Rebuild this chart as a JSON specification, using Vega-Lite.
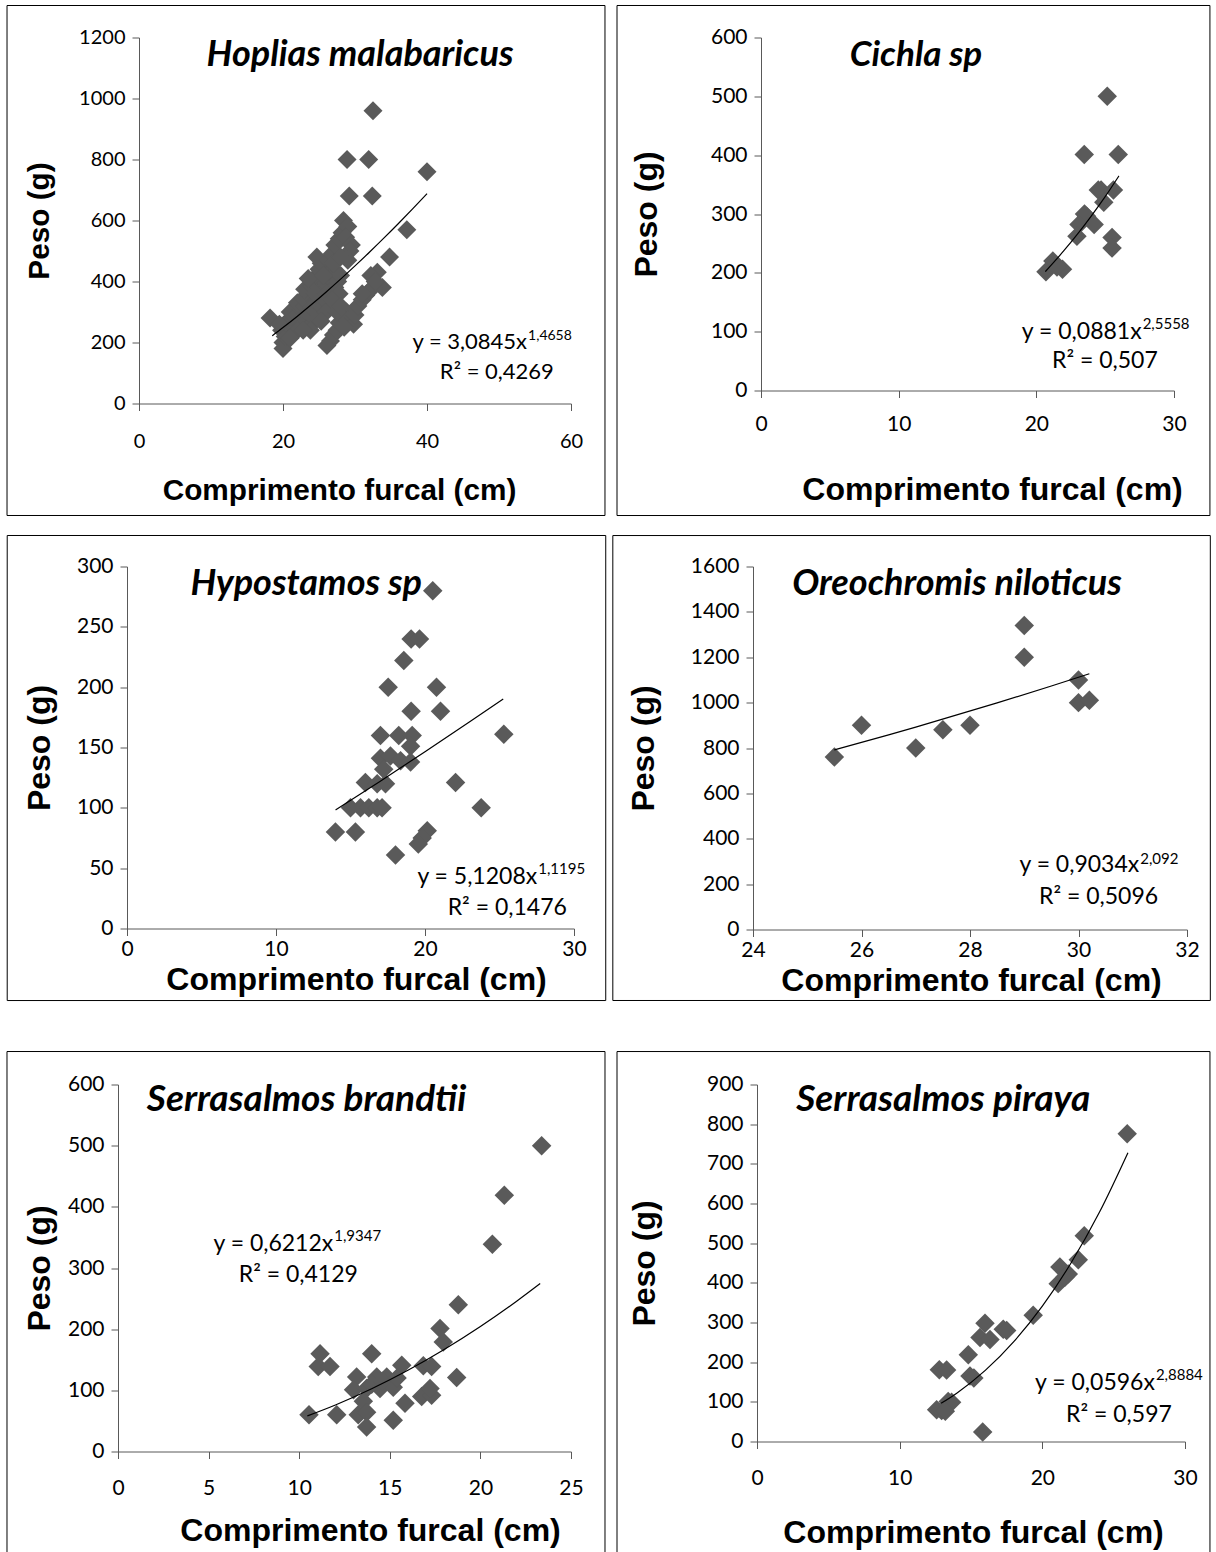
{
  "$schema": "https://vega.github.io/schema/vega-lite/v6.json",
  "background": "white",
  "padding": {"left": 5, "top": 4.5, "right": 0, "bottom": 0},
  "config": {
    "view": {"stroke": null},
    "numberFormat": "d",
    "axis": {"grid": false, "domainColor": "#595959", "tickColor": "#595959", "tickSize": 7, "domainWidth": 1, "tickWidth": 1,
      "labelFont": "Lato", "labelFontSize": 21, "labelColor": "#000000", "labelFlush": false, "labelOverlap": false,
      "titleFont": "Liberation Sans", "titleFontWeight": "bold", "titleFontSize": 32, "titleColor": "#000000"},
    "axisY": {"labelPadding": 7},
    "text": {"font": "Lato", "color": "#000000"}
  },
  "datasets": {
    "p1": [
      {"comprimento": 18.2, "peso": 280}, {"comprimento": 28.9, "peso": 800}, {"comprimento": 31.9, "peso": 800}, {"comprimento": 32.5, "peso": 960}, {"comprimento": 40, "peso": 760}, {"comprimento": 29.2, "peso": 680}, {"comprimento": 32.4, "peso": 680}, {"comprimento": 37.2, "peso": 570}, {"comprimento": 34.8, "peso": 480}, {"comprimento": 33.1, "peso": 430}, {"comprimento": 33.8, "peso": 380}, {"comprimento": 32.2, "peso": 420},
      {"comprimento": 20, "peso": 180}, {"comprimento": 20, "peso": 200}, {"comprimento": 20.3, "peso": 220}, {"comprimento": 19.8, "peso": 240}, {"comprimento": 20.8, "peso": 250}, {"comprimento": 20.4, "peso": 265}, {"comprimento": 21.3, "peso": 280}, {"comprimento": 21, "peso": 300}, {"comprimento": 22, "peso": 290}, {"comprimento": 22.5, "peso": 310}, {"comprimento": 22, "peso": 330}, {"comprimento": 23, "peso": 320}, {"comprimento": 22.8, "peso": 345}, {"comprimento": 23.5, "peso": 360}, {"comprimento": 23, "peso": 375}, {"comprimento": 24, "peso": 385}, {"comprimento": 24.2, "peso": 400}, {"comprimento": 24.7, "peso": 420}, {"comprimento": 25, "peso": 440}, {"comprimento": 25.3, "peso": 460}, {"comprimento": 24.7, "peso": 480}, {"comprimento": 25.8, "peso": 450}, {"comprimento": 26.3, "peso": 470}, {"comprimento": 26.8, "peso": 490}, {"comprimento": 27.2, "peso": 520}, {"comprimento": 27.8, "peso": 540}, {"comprimento": 28.2, "peso": 560}, {"comprimento": 28.4, "peso": 600}, {"comprimento": 29, "peso": 580}, {"comprimento": 28.7, "peso": 545}, {"comprimento": 29.5, "peso": 520}, {"comprimento": 29.3, "peso": 500}, {"comprimento": 29, "peso": 470}, {"comprimento": 27, "peso": 440}, {"comprimento": 26.5, "peso": 410}, {"comprimento": 26, "peso": 395}, {"comprimento": 25.5, "peso": 375}, {"comprimento": 25, "peso": 355}, {"comprimento": 24.5, "peso": 335}, {"comprimento": 24, "peso": 315}, {"comprimento": 23.5, "peso": 295}, {"comprimento": 23, "peso": 275}, {"comprimento": 22.5, "peso": 255}, {"comprimento": 22, "peso": 240}, {"comprimento": 24, "peso": 260}, {"comprimento": 24.5, "peso": 275}, {"comprimento": 25, "peso": 295}, {"comprimento": 25.5, "peso": 315}, {"comprimento": 26, "peso": 335}, {"comprimento": 26.6, "peso": 355}, {"comprimento": 27.2, "peso": 380}, {"comprimento": 27.6, "peso": 400}, {"comprimento": 27.8, "peso": 360}, {"comprimento": 28, "peso": 420}, {"comprimento": 26, "peso": 300}, {"comprimento": 25.3, "peso": 270}, {"comprimento": 23.8, "peso": 240}, {"comprimento": 22.8, "peso": 240}, {"comprimento": 21, "peso": 215}, {"comprimento": 19.5, "peso": 260}, {"comprimento": 23.5, "peso": 410}, {"comprimento": 24.5, "peso": 360}, {"comprimento": 26, "peso": 360}, {"comprimento": 27, "peso": 460}, {"comprimento": 28, "peso": 480}, {"comprimento": 25.6, "peso": 420}, {"comprimento": 26.8, "peso": 340},
      {"comprimento": 26.1, "peso": 190}, {"comprimento": 26.6, "peso": 205}, {"comprimento": 27, "peso": 225}, {"comprimento": 27.5, "peso": 240}, {"comprimento": 27.8, "peso": 265}, {"comprimento": 28.2, "peso": 290}, {"comprimento": 28.8, "peso": 300}, {"comprimento": 29, "peso": 275}, {"comprimento": 29.8, "peso": 260}, {"comprimento": 30, "peso": 290}, {"comprimento": 30.4, "peso": 320}, {"comprimento": 31, "peso": 340}, {"comprimento": 31.5, "peso": 355}, {"comprimento": 32, "peso": 370}, {"comprimento": 32.5, "peso": 380}, {"comprimento": 32.8, "peso": 400}, {"comprimento": 28.5, "peso": 250}, {"comprimento": 31, "peso": 360}, {"comprimento": 27.5, "peso": 300}, {"comprimento": 28, "peso": 320}
    ],
    "t1": [
      {"comprimento": 18.5, "peso": 222.1}, {"comprimento": 20, "peso": 249.0}, {"comprimento": 22, "peso": 286.3}, {"comprimento": 24, "peso": 325.3}, {"comprimento": 26, "peso": 365.8}, {"comprimento": 28, "peso": 407.8}, {"comprimento": 30, "peso": 451.2}, {"comprimento": 32, "peso": 495.9}, {"comprimento": 34, "peso": 542.0}, {"comprimento": 36, "peso": 589.4}, {"comprimento": 38, "peso": 638.1}, {"comprimento": 40, "peso": 687.9}
    ],
    "p2": [
      {"comprimento": 25.15, "peso": 500}, {"comprimento": 23.48, "peso": 401}, {"comprimento": 25.95, "peso": 401}, {"comprimento": 24.5, "peso": 341}, {"comprimento": 24.7, "peso": 341}, {"comprimento": 25.6, "peso": 341}, {"comprimento": 24.9, "peso": 320}, {"comprimento": 23.5, "peso": 300}, {"comprimento": 23.65, "peso": 296}, {"comprimento": 23.1, "peso": 282}, {"comprimento": 24.2, "peso": 282}, {"comprimento": 22.95, "peso": 262}, {"comprimento": 25.5, "peso": 260}, {"comprimento": 25.5, "peso": 242}, {"comprimento": 21.2, "peso": 220}, {"comprimento": 20.7, "peso": 202}, {"comprimento": 21.9, "peso": 206}, {"comprimento": 21.5, "peso": 210}
    ],
    "t2": [
      {"comprimento": 20.65, "peso": 202}, {"comprimento": 21.5, "peso": 224.1}, {"comprimento": 22, "peso": 237.6}, {"comprimento": 23, "peso": 266.2}, {"comprimento": 24, "peso": 296.9}, {"comprimento": 25, "peso": 329.5}, {"comprimento": 26, "peso": 364.8}
    ],
    "p3": [
      {"comprimento": 20.52, "peso": 280}, {"comprimento": 19.07, "peso": 240}, {"comprimento": 19.63, "peso": 240}, {"comprimento": 18.58, "peso": 222}, {"comprimento": 17.53, "peso": 200}, {"comprimento": 20.77, "peso": 200}, {"comprimento": 19.07, "peso": 180}, {"comprimento": 21.04, "peso": 180}, {"comprimento": 17.01, "peso": 160}, {"comprimento": 18.24, "peso": 160}, {"comprimento": 19.14, "peso": 160}, {"comprimento": 25.29, "peso": 161}, {"comprimento": 19.03, "peso": 151}, {"comprimento": 17.01, "peso": 141}, {"comprimento": 17.68, "peso": 143}, {"comprimento": 18.36, "peso": 139}, {"comprimento": 19.03, "peso": 138}, {"comprimento": 17.23, "peso": 132}, {"comprimento": 16.0, "peso": 121}, {"comprimento": 16.79, "peso": 120}, {"comprimento": 17.35, "peso": 120}, {"comprimento": 22.05, "peso": 121}, {"comprimento": 15.0, "peso": 100}, {"comprimento": 15.67, "peso": 100}, {"comprimento": 16.23, "peso": 100}, {"comprimento": 16.79, "peso": 100}, {"comprimento": 17.12, "peso": 100}, {"comprimento": 23.77, "peso": 100}, {"comprimento": 13.99, "peso": 80}, {"comprimento": 15.33, "peso": 80}, {"comprimento": 20.15, "peso": 81}, {"comprimento": 19.81, "peso": 75}, {"comprimento": 19.55, "peso": 70}, {"comprimento": 18.02, "peso": 61}
    ],
    "t3": [
      {"comprimento": 14, "peso": 98.3}, {"comprimento": 17, "peso": 122.1}, {"comprimento": 20, "peso": 146.5}, {"comprimento": 23, "peso": 171.3}, {"comprimento": 25.25, "peso": 190.1}
    ],
    "p4": [
      {"comprimento": 25.5, "peso": 760}, {"comprimento": 26, "peso": 900}, {"comprimento": 27, "peso": 800}, {"comprimento": 27.5, "peso": 880}, {"comprimento": 28, "peso": 900}, {"comprimento": 29, "peso": 1340}, {"comprimento": 29, "peso": 1200}, {"comprimento": 30, "peso": 1100}, {"comprimento": 30, "peso": 1000}, {"comprimento": 30.2, "peso": 1010}
    ],
    "t4": [
      {"comprimento": 25.5, "peso": 791.4}, {"comprimento": 26.5, "peso": 857.6}, {"comprimento": 27, "peso": 891.9}, {"comprimento": 28.5, "peso": 998.6}, {"comprimento": 29.5, "peso": 1073.4}, {"comprimento": 30.2, "peso": 1127.2}
    ],
    "p5": [
      {"comprimento": 23.38, "peso": 500}, {"comprimento": 21.32, "peso": 419}, {"comprimento": 20.66, "peso": 339}, {"comprimento": 18.78, "peso": 240}, {"comprimento": 17.77, "peso": 201}, {"comprimento": 17.95, "peso": 179}, {"comprimento": 11.15, "peso": 160}, {"comprimento": 14.0, "peso": 160}, {"comprimento": 11.05, "peso": 139}, {"comprimento": 11.7, "peso": 139}, {"comprimento": 15.66, "peso": 141}, {"comprimento": 16.85, "peso": 140}, {"comprimento": 17.31, "peso": 139}, {"comprimento": 18.69, "peso": 121}, {"comprimento": 13.17, "peso": 122}, {"comprimento": 14.28, "peso": 122}, {"comprimento": 14.83, "peso": 122}, {"comprimento": 13.0, "peso": 101}, {"comprimento": 13.72, "peso": 103}, {"comprimento": 14.46, "peso": 103}, {"comprimento": 15.19, "peso": 105}, {"comprimento": 13.54, "peso": 82}, {"comprimento": 16.76, "peso": 90}, {"comprimento": 17.31, "peso": 92}, {"comprimento": 17.22, "peso": 103}, {"comprimento": 15.84, "peso": 79}, {"comprimento": 10.54, "peso": 60}, {"comprimento": 12.07, "peso": 60}, {"comprimento": 13.26, "peso": 60}, {"comprimento": 13.72, "peso": 64}, {"comprimento": 13.72, "peso": 40}, {"comprimento": 15.19, "peso": 51}, {"comprimento": 14.0, "peso": 110}, {"comprimento": 14.6, "peso": 115}, {"comprimento": 15.4, "peso": 120}
    ],
    "t5": [
      {"comprimento": 10.45, "peso": 58.2}, {"comprimento": 12, "peso": 76.1}, {"comprimento": 14, "peso": 102.5}, {"comprimento": 16, "peso": 132.7}, {"comprimento": 18, "peso": 166.7}, {"comprimento": 20, "peso": 204.3}, {"comprimento": 22, "peso": 245.7}, {"comprimento": 23.3, "peso": 274.6}
    ],
    "p6": [
      {"comprimento": 25.95, "peso": 776}, {"comprimento": 22.94, "peso": 519}, {"comprimento": 22.52, "peso": 458}, {"comprimento": 21.23, "peso": 440}, {"comprimento": 21.82, "peso": 422}, {"comprimento": 21.11, "peso": 398}, {"comprimento": 21.58, "peso": 414}, {"comprimento": 19.36, "peso": 318}, {"comprimento": 15.98, "peso": 298}, {"comprimento": 17.26, "peso": 283}, {"comprimento": 17.5, "peso": 280}, {"comprimento": 15.63, "peso": 262}, {"comprimento": 16.33, "peso": 257}, {"comprimento": 14.81, "peso": 219}, {"comprimento": 12.78, "peso": 181}, {"comprimento": 13.29, "peso": 180}, {"comprimento": 14.93, "peso": 165}, {"comprimento": 15.2, "peso": 160}, {"comprimento": 12.59, "peso": 80}, {"comprimento": 12.94, "peso": 78}, {"comprimento": 13.4, "peso": 101}, {"comprimento": 13.64, "peso": 99}, {"comprimento": 13.2, "peso": 76}, {"comprimento": 15.82, "peso": 24}
    ],
    "t6": [
      {"comprimento": 12.9, "peso": 96.2}, {"comprimento": 14, "peso": 121.8}, {"comprimento": 16, "peso": 179.2}, {"comprimento": 18, "peso": 251.8}, {"comprimento": 20, "peso": 341.2}, {"comprimento": 22, "peso": 449.4}, {"comprimento": 24, "peso": 577.8}, {"comprimento": 26, "peso": 728.2}
    ],
    "one": [{}],
    "none": []
  },
  "spacing": 18,
  "vconcat": [
    {
      "spacing": 0,
      "hconcat": [
        {"width": 1, "height": 1, "data": {"name": "none"}, "mark": "point"},
        {
          "width": 432, "height": 366,
          "layer": [
            {"data": {"name": "one"}, "mark": {"type": "rect", "fill": null, "stroke": "#000000", "strokeWidth": 1},
              "encoding": {"x": {"datum": -18.33, "type": "quantitative", "scale": {"domain": [0, 60], "nice": false, "zero": false}},
                "x2": {"datum": 64.72}, "y": {"datum": 1304.9, "type": "quantitative", "scale": {"domain": [0, 1200], "nice": false, "zero": false}}, "y2": {"datum": -367.2}}},
            {"data": {"name": "p1"}, "mark": {"type": "point", "shape": "diamond", "filled": true, "size": 360, "color": "#5a5a5a", "opacity": 1},
              "encoding": {"x": {"field": "comprimento", "type": "quantitative", "scale": {"domain": [0, 60], "nice": false, "zero": false},
                  "axis": {"title": "Comprimento furcal (cm)", "format": "d", "values": [0, 20, 40, 60], "tickCount": 20, "labelOverlap": false, "labelFontSize": 20, "titleFontSize": 29.75, "labelPadding": 21, "titlePadding": 24, "titleX": 200}},
                "y": {"field": "peso", "type": "quantitative", "scale": {"domain": [0, 1200], "nice": false, "zero": false},
                  "axis": {"title": "Peso (g)", "format": "d", "values": [0, 200, 400, 600, 800, 1000, 1200], "tickCount": 20, "labelOverlap": false, "labelFontSize": 20, "titleFontSize": 29.75, "titlePadding": 24}}}},
            {"data": {"name": "t1"}, "mark": {"type": "line", "color": "#000000", "strokeWidth": 1.2, "interpolate": "monotone"},
              "encoding": {"x": {"field": "comprimento", "type": "quantitative", "scale": {"domain": [0, 60], "nice": false, "zero": false}},
                "y": {"field": "peso", "type": "quantitative", "scale": {"domain": [0, 1200], "nice": false, "zero": false}}}},
            {"data": {"name": "one"}, "mark": {"type": "text", "text": "Hoplias malabaricus", "fontSize": 36, "fontWeight": "bold", "fontStyle": "italic", "align": "center", "baseline": "middle"},
              "encoding": {"x": {"datum": 30.7, "type": "quantitative", "scale": {"domain": [0, 60], "nice": false, "zero": false}},
                "y": {"datum": 1144, "type": "quantitative", "scale": {"domain": [0, 1200], "nice": false, "zero": false}}}},
            {"data": {"name": "one"}, "mark": {"type": "text", "text": "y = 3,0845x", "fontSize": 22, "align": "right", "baseline": "alphabetic"},
              "encoding": {"x": {"datum": 53.9, "type": "quantitative", "scale": {"domain": [0, 60], "nice": false, "zero": false}},
                "y": {"datum": 180.3, "type": "quantitative", "scale": {"domain": [0, 1200], "nice": false, "zero": false}}}},
            {"data": {"name": "one"}, "mark": {"type": "text", "text": "1,4658", "fontSize": 14, "align": "left", "baseline": "alphabetic", "dx": 1},
              "encoding": {"x": {"datum": 53.9, "type": "quantitative", "scale": {"domain": [0, 60], "nice": false, "zero": false}},
                "y": {"datum": 209.8, "type": "quantitative", "scale": {"domain": [0, 1200], "nice": false, "zero": false}}}},
            {"data": {"name": "one"}, "mark": {"type": "text", "text": "R² = 0,4269", "fontSize": 22, "align": "center", "baseline": "alphabetic"},
              "encoding": {"x": {"datum": 49.7, "type": "quantitative", "scale": {"domain": [0, 60], "nice": false, "zero": false}},
                "y": {"datum": 78.7, "type": "quantitative", "scale": {"domain": [0, 1200], "nice": false, "zero": false}}}}
          ]
        },
        {"width": 10, "height": 1, "data": {"name": "none"}, "mark": "point"},
        {
          "width": 413, "height": 353,
          "layer": [
            {"data": {"name": "one"}, "mark": {"type": "rect", "fill": null, "stroke": "#000000", "strokeWidth": 1},
              "encoding": {"x": {"datum": -10.46, "type": "quantitative", "scale": {"domain": [0, 30], "nice": false, "zero": false}},
                "x2": {"datum": 32.61}, "y": {"datum": 654.4, "type": "quantitative", "scale": {"domain": [0, 600], "nice": false, "zero": false}}, "y2": {"datum": -212.5}}},
            {"data": {"name": "p2"}, "mark": {"type": "point", "shape": "diamond", "filled": true, "size": 380, "color": "#5a5a5a", "opacity": 1},
              "encoding": {"x": {"field": "comprimento", "type": "quantitative", "scale": {"domain": [0, 30], "nice": false, "zero": false},
                  "axis": {"title": "Comprimento furcal (cm)", "format": "d", "values": [0, 10, 20, 30], "tickCount": 20, "labelOverlap": false, "labelPadding": 16, "titlePadding": 40, "titleX": 231}},
                "y": {"field": "peso", "type": "quantitative", "scale": {"domain": [0, 600], "nice": false, "zero": false},
                  "axis": {"title": "Peso (g)", "format": "d", "values": [0, 100, 200, 300, 400, 500, 600], "tickCount": 20, "labelOverlap": false, "titlePadding": 47}}}},
            {"data": {"name": "t2"}, "mark": {"type": "line", "color": "#000000", "strokeWidth": 1.2, "interpolate": "monotone"},
              "encoding": {"x": {"field": "comprimento", "type": "quantitative", "scale": {"domain": [0, 30], "nice": false, "zero": false}},
                "y": {"field": "peso", "type": "quantitative", "scale": {"domain": [0, 600], "nice": false, "zero": false}}}},
            {"data": {"name": "one"}, "mark": {"type": "text", "text": "Cichla sp", "fontSize": 35, "fontWeight": "bold", "fontStyle": "italic", "align": "center", "baseline": "middle"},
              "encoding": {"x": {"datum": 11.26, "type": "quantitative", "scale": {"domain": [0, 30], "nice": false, "zero": false}},
                "y": {"datum": 571, "type": "quantitative", "scale": {"domain": [0, 600], "nice": false, "zero": false}}}},
            {"data": {"name": "one"}, "mark": {"type": "text", "text": "y = 0,0881x", "fontSize": 23, "align": "right", "baseline": "alphabetic"},
              "encoding": {"x": {"datum": 27.65, "type": "quantitative", "scale": {"domain": [0, 30], "nice": false, "zero": false}},
                "y": {"datum": 87.9, "type": "quantitative", "scale": {"domain": [0, 600], "nice": false, "zero": false}}}},
            {"data": {"name": "one"}, "mark": {"type": "text", "text": "2,5558", "fontSize": 15, "align": "left", "baseline": "alphabetic", "dx": 1},
              "encoding": {"x": {"datum": 27.65, "type": "quantitative", "scale": {"domain": [0, 30], "nice": false, "zero": false}},
                "y": {"datum": 104.9, "type": "quantitative", "scale": {"domain": [0, 600], "nice": false, "zero": false}}}},
            {"data": {"name": "one"}, "mark": {"type": "text", "text": "R² = 0,507", "fontSize": 23, "align": "center", "baseline": "alphabetic"},
              "encoding": {"x": {"datum": 24.98, "type": "quantitative", "scale": {"domain": [0, 30], "nice": false, "zero": false}},
                "y": {"datum": 38.6, "type": "quantitative", "scale": {"domain": [0, 600], "nice": false, "zero": false}}}}
          ]
        }
      ]
    },
    {
      "spacing": 49,
      "vconcat": [
        {
          "spacing": 0,
          "hconcat": [
            {"width": 1, "height": 1, "data": {"name": "none"}, "mark": "point"},
            {
              "width": 447, "height": 362,
              "layer": [
                {"data": {"name": "one"}, "mark": {"type": "rect", "fill": null, "stroke": "#000000", "strokeWidth": 1},
                  "encoding": {"x": {"datum": -8.04, "type": "quantitative", "scale": {"domain": [0, 30], "nice": false, "zero": false}},
                    "x2": {"datum": 32.13}, "y": {"datum": 325.7, "type": "quantitative", "scale": {"domain": [0, 300], "nice": false, "zero": false}}, "y2": {"datum": -59.7}}},
                {"data": {"name": "p3"}, "mark": {"type": "point", "shape": "diamond", "filled": true, "size": 380, "color": "#5a5a5a", "opacity": 1},
                  "encoding": {"x": {"field": "comprimento", "type": "quantitative", "scale": {"domain": [0, 30], "nice": false, "zero": false},
                      "axis": {"title": "Comprimento furcal (cm)", "format": "d", "values": [0, 10, 20, 30], "tickCount": 20, "labelOverlap": false, "labelPadding": 3, "titlePadding": 5, "titleX": 229}},
                    "y": {"field": "peso", "type": "quantitative", "scale": {"domain": [0, 300], "nice": false, "zero": false},
                      "axis": {"title": "Peso (g)", "format": "d", "values": [0, 50, 100, 150, 200, 250, 300], "tickCount": 20, "labelOverlap": false, "titlePadding": 20}}}},
                {"data": {"name": "t3"}, "mark": {"type": "line", "color": "#000000", "strokeWidth": 1.2, "interpolate": "monotone"},
                  "encoding": {"x": {"field": "comprimento", "type": "quantitative", "scale": {"domain": [0, 30], "nice": false, "zero": false}},
                    "y": {"field": "peso", "type": "quantitative", "scale": {"domain": [0, 300], "nice": false, "zero": false}}}},
                {"data": {"name": "one"}, "mark": {"type": "text", "text": "Hypostamos sp", "fontSize": 36, "fontWeight": "bold", "fontStyle": "italic", "align": "center", "baseline": "middle"},
                  "encoding": {"x": {"datum": 12.03, "type": "quantitative", "scale": {"domain": [0, 30], "nice": false, "zero": false}},
                    "y": {"datum": 285.2, "type": "quantitative", "scale": {"domain": [0, 300], "nice": false, "zero": false}}}},
                {"data": {"name": "one"}, "mark": {"type": "text", "text": "y = 5,1208x", "fontSize": 23, "align": "right", "baseline": "alphabetic"},
                  "encoding": {"x": {"datum": 27.53, "type": "quantitative", "scale": {"domain": [0, 30], "nice": false, "zero": false}},
                    "y": {"datum": 36.7, "type": "quantitative", "scale": {"domain": [0, 300], "nice": false, "zero": false}}}},
                {"data": {"name": "one"}, "mark": {"type": "text", "text": "1,1195", "fontSize": 15, "align": "left", "baseline": "alphabetic", "dx": 1},
                  "encoding": {"x": {"datum": 27.53, "type": "quantitative", "scale": {"domain": [0, 30], "nice": false, "zero": false}},
                    "y": {"datum": 45.5, "type": "quantitative", "scale": {"domain": [0, 300], "nice": false, "zero": false}}}},
                {"data": {"name": "one"}, "mark": {"type": "text", "text": "R² = 0,1476", "fontSize": 23, "align": "center", "baseline": "alphabetic"},
                  "encoding": {"x": {"datum": 25.52, "type": "quantitative", "scale": {"domain": [0, 30], "nice": false, "zero": false}},
                    "y": {"datum": 10.8, "type": "quantitative", "scale": {"domain": [0, 300], "nice": false, "zero": false}}}}
              ]
            },
            {"width": 5, "height": 1, "data": {"name": "none"}, "mark": "point"},
            {
              "width": 434, "height": 363,
              "layer": [
                {"data": {"name": "one"}, "mark": {"type": "rect", "fill": null, "stroke": "#000000", "strokeWidth": 1},
                  "encoding": {"x": {"datum": 21.416, "type": "quantitative", "scale": {"domain": [24, 32], "nice": false, "zero": false}},
                    "x2": {"datum": 32.43}, "y": {"datum": 1736.5, "type": "quantitative", "scale": {"domain": [0, 1600], "nice": false, "zero": false}}, "y2": {"datum": -312.9}}},
                {"data": {"name": "p4"}, "mark": {"type": "point", "shape": "diamond", "filled": true, "size": 380, "color": "#5a5a5a", "opacity": 1},
                  "encoding": {"x": {"field": "comprimento", "type": "quantitative", "scale": {"domain": [24, 32], "nice": false, "zero": false},
                      "axis": {"title": "Comprimento furcal (cm)", "format": "d", "values": [24, 26, 28, 30, 32], "tickCount": 20, "labelOverlap": false, "labelPadding": 3, "titlePadding": 5, "titleX": 218}},
                    "y": {"field": "peso", "type": "quantitative", "scale": {"domain": [0, 1600], "nice": false, "zero": false},
                      "axis": {"title": "Peso (g)", "format": "d", "values": [0, 200, 400, 600, 800, 1000, 1200, 1400, 1600], "tickCount": 20, "labelOverlap": false, "titlePadding": 30}}}},
                {"data": {"name": "t4"}, "mark": {"type": "line", "color": "#000000", "strokeWidth": 1.2, "interpolate": "monotone"},
                  "encoding": {"x": {"field": "comprimento", "type": "quantitative", "scale": {"domain": [24, 32], "nice": false, "zero": false}},
                    "y": {"field": "peso", "type": "quantitative", "scale": {"domain": [0, 1600], "nice": false, "zero": false}}}},
                {"data": {"name": "one"}, "mark": {"type": "text", "text": "Oreochromis niloticus", "fontSize": 36, "fontWeight": "bold", "fontStyle": "italic", "align": "center", "baseline": "middle"},
                  "encoding": {"x": {"datum": 27.76, "type": "quantitative", "scale": {"domain": [24, 32], "nice": false, "zero": false}},
                    "y": {"datum": 1525, "type": "quantitative", "scale": {"domain": [0, 1600], "nice": false, "zero": false}}}},
                {"data": {"name": "one"}, "mark": {"type": "text", "text": "y = 0,9034x", "fontSize": 23, "align": "right", "baseline": "alphabetic"},
                  "encoding": {"x": {"datum": 31.12, "type": "quantitative", "scale": {"domain": [24, 32], "nice": false, "zero": false}},
                    "y": {"datum": 252.5, "type": "quantitative", "scale": {"domain": [0, 1600], "nice": false, "zero": false}}}},
                {"data": {"name": "one"}, "mark": {"type": "text", "text": "2,092", "fontSize": 15, "align": "left", "baseline": "alphabetic", "dx": 1},
                  "encoding": {"x": {"datum": 31.12, "type": "quantitative", "scale": {"domain": [24, 32], "nice": false, "zero": false}},
                    "y": {"datum": 289.6, "type": "quantitative", "scale": {"domain": [0, 1600], "nice": false, "zero": false}}}},
                {"data": {"name": "one"}, "mark": {"type": "text", "text": "R² = 0,5096", "fontSize": 23, "align": "center", "baseline": "alphabetic"},
                  "encoding": {"x": {"datum": 30.37, "type": "quantitative", "scale": {"domain": [24, 32], "nice": false, "zero": false}},
                    "y": {"datum": 113.3, "type": "quantitative", "scale": {"domain": [0, 1600], "nice": false, "zero": false}}}}
              ]
            }
          ]
        },
        {
          "spacing": 0,
          "hconcat": [
            {"width": 1, "height": 1, "data": {"name": "none"}, "mark": "point"},
            {
              "width": 453, "height": 367,
              "layer": [
                {"data": {"name": "one"}, "mark": {"type": "rect", "fill": null, "stroke": "#000000", "strokeWidth": 1},
                  "encoding": {"x": {"datum": -6.126, "type": "quantitative", "scale": {"domain": [0, 25], "nice": false, "zero": false}},
                    "x2": {"datum": 26.876}, "y": {"datum": 653.9, "type": "quantitative", "scale": {"domain": [0, 600], "nice": false, "zero": false}}, "y2": {"datum": -173.3}}},
                {"data": {"name": "p5"}, "mark": {"type": "point", "shape": "diamond", "filled": true, "size": 380, "color": "#5a5a5a", "opacity": 1},
                  "encoding": {"x": {"field": "comprimento", "type": "quantitative", "scale": {"domain": [0, 25], "nice": false, "zero": false},
                      "axis": {"title": "Comprimento furcal (cm)", "format": "d", "values": [0, 5, 10, 15, 20, 25], "tickCount": 20, "labelOverlap": false, "labelPadding": 19, "titlePadding": 17, "titleX": 252}},
                    "y": {"field": "peso", "type": "quantitative", "scale": {"domain": [0, 600], "nice": false, "zero": false},
                      "axis": {"title": "Peso (g)", "format": "d", "values": [0, 100, 200, 300, 400, 500, 600], "tickCount": 20, "labelOverlap": false, "titlePadding": 11}}}},
                {"data": {"name": "t5"}, "mark": {"type": "line", "color": "#000000", "strokeWidth": 1.2, "interpolate": "monotone"},
                  "encoding": {"x": {"field": "comprimento", "type": "quantitative", "scale": {"domain": [0, 25], "nice": false, "zero": false}},
                    "y": {"field": "peso", "type": "quantitative", "scale": {"domain": [0, 600], "nice": false, "zero": false}}}},
                {"data": {"name": "one"}, "mark": {"type": "text", "text": "Serrasalmos brandtii", "fontSize": 37, "fontWeight": "bold", "fontStyle": "italic", "align": "center", "baseline": "middle"},
                  "encoding": {"x": {"datum": 10.41, "type": "quantitative", "scale": {"domain": [0, 25], "nice": false, "zero": false}},
                    "y": {"datum": 575.4, "type": "quantitative", "scale": {"domain": [0, 600], "nice": false, "zero": false}}}},
                {"data": {"name": "one"}, "mark": {"type": "text", "text": "y = 0,6212x", "fontSize": 23, "align": "right", "baseline": "alphabetic"},
                  "encoding": {"x": {"datum": 11.88, "type": "quantitative", "scale": {"domain": [0, 25], "nice": false, "zero": false}},
                    "y": {"datum": 327, "type": "quantitative", "scale": {"domain": [0, 600], "nice": false, "zero": false}}}},
                {"data": {"name": "one"}, "mark": {"type": "text", "text": "1,9347", "fontSize": 15, "align": "left", "baseline": "alphabetic", "dx": 1},
                  "encoding": {"x": {"datum": 11.88, "type": "quantitative", "scale": {"domain": [0, 25], "nice": false, "zero": false}},
                    "y": {"datum": 344.5, "type": "quantitative", "scale": {"domain": [0, 600], "nice": false, "zero": false}}}},
                {"data": {"name": "one"}, "mark": {"type": "text", "text": "R² = 0,4129", "fontSize": 23, "align": "center", "baseline": "alphabetic"},
                  "encoding": {"x": {"datum": 9.95, "type": "quantitative", "scale": {"domain": [0, 25], "nice": false, "zero": false}},
                    "y": {"datum": 277.9, "type": "quantitative", "scale": {"domain": [0, 600], "nice": false, "zero": false}}}}
              ]
            },
            {"width": 10, "height": 1, "data": {"name": "none"}, "mark": "point"},
            {
              "width": 428, "height": 357,
              "layer": [
                {"data": {"name": "one"}, "mark": {"type": "rect", "fill": null, "stroke": "#000000", "strokeWidth": 1},
                  "encoding": {"x": {"datum": -9.813, "type": "quantitative", "scale": {"domain": [0, 30], "nice": false, "zero": false}},
                    "x2": {"datum": 31.75}, "y": {"datum": 983.1, "type": "quantitative", "scale": {"domain": [0, 900], "nice": false, "zero": false}}, "y2": {"datum": -292.4}}},
                {"data": {"name": "p6"}, "mark": {"type": "point", "shape": "diamond", "filled": true, "size": 380, "color": "#5a5a5a", "opacity": 1},
                  "encoding": {"x": {"field": "comprimento", "type": "quantitative", "scale": {"domain": [0, 30], "nice": false, "zero": false},
                      "axis": {"title": "Comprimento furcal (cm)", "format": "d", "values": [0, 10, 20, 30], "tickCount": 20, "labelOverlap": false, "labelPadding": 19, "titlePadding": 29, "titleX": 216}},
                    "y": {"field": "peso", "type": "quantitative", "scale": {"domain": [0, 900], "nice": false, "zero": false},
                      "axis": {"title": "Peso (g)", "format": "d", "values": [0, 100, 200, 300, 400, 500, 600, 700, 800, 900], "tickCount": 20, "labelOverlap": false, "titlePadding": 45}}}},
                {"data": {"name": "t6"}, "mark": {"type": "line", "color": "#000000", "strokeWidth": 1.2, "interpolate": "monotone"},
                  "encoding": {"x": {"field": "comprimento", "type": "quantitative", "scale": {"domain": [0, 30], "nice": false, "zero": false}},
                    "y": {"field": "peso", "type": "quantitative", "scale": {"domain": [0, 900], "nice": false, "zero": false}}}},
                {"data": {"name": "one"}, "mark": {"type": "text", "text": "Serrasalmos piraya", "fontSize": 37, "fontWeight": "bold", "fontStyle": "italic", "align": "center", "baseline": "middle"},
                  "encoding": {"x": {"datum": 13.06, "type": "quantitative", "scale": {"domain": [0, 30], "nice": false, "zero": false}},
                    "y": {"datum": 862, "type": "quantitative", "scale": {"domain": [0, 900], "nice": false, "zero": false}}}},
                {"data": {"name": "one"}, "mark": {"type": "text", "text": "y = 0,0596x", "fontSize": 23, "align": "right", "baseline": "alphabetic"},
                  "encoding": {"x": {"datum": 27.89, "type": "quantitative", "scale": {"domain": [0, 30], "nice": false, "zero": false}},
                    "y": {"datum": 130.3, "type": "quantitative", "scale": {"domain": [0, 900], "nice": false, "zero": false}}}},
                {"data": {"name": "one"}, "mark": {"type": "text", "text": "2,8884", "fontSize": 15, "align": "left", "baseline": "alphabetic", "dx": 1},
                  "encoding": {"x": {"datum": 27.89, "type": "quantitative", "scale": {"domain": [0, 30], "nice": false, "zero": false}},
                    "y": {"datum": 155.5, "type": "quantitative", "scale": {"domain": [0, 900], "nice": false, "zero": false}}}},
                {"data": {"name": "one"}, "mark": {"type": "text", "text": "R² = 0,597", "fontSize": 23, "align": "center", "baseline": "alphabetic"},
                  "encoding": {"x": {"datum": 25.37, "type": "quantitative", "scale": {"domain": [0, 30], "nice": false, "zero": false}},
                    "y": {"datum": 50.4, "type": "quantitative", "scale": {"domain": [0, 900], "nice": false, "zero": false}}}}
              ]
            }
          ]
        }
      ]
    }
  ]
}
